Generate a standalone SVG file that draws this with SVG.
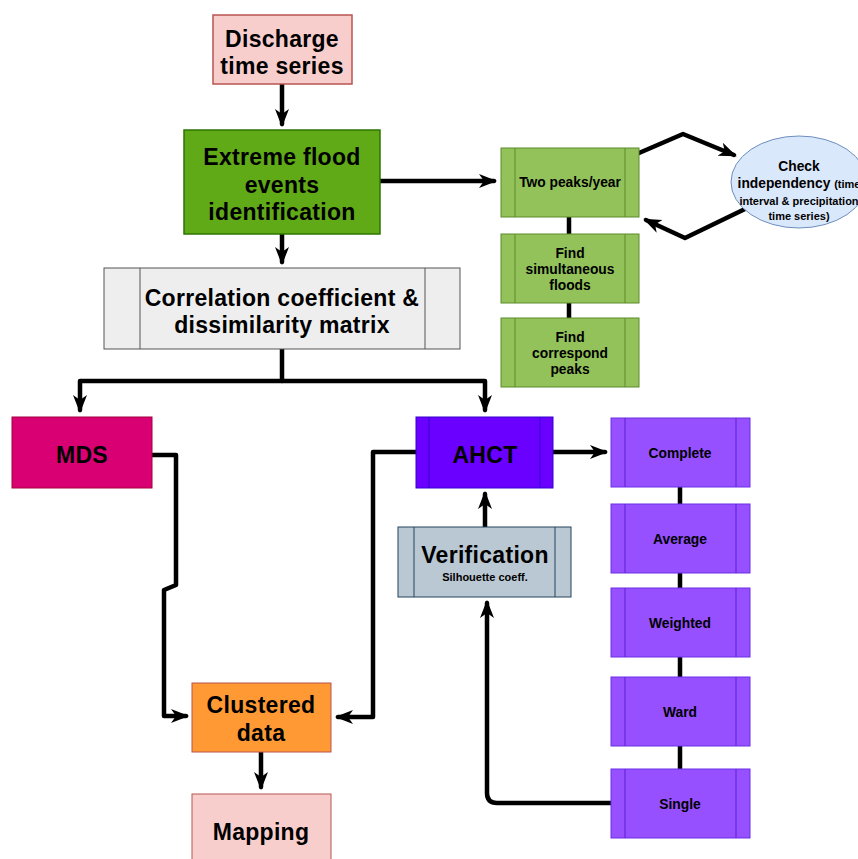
<svg xmlns="http://www.w3.org/2000/svg" width="858" height="859" viewBox="0 0 858 859">
<style>
.big{font-family:"Comic Sans MS","Liberation Sans",sans-serif;font-weight:bold;font-size:23px;letter-spacing:0.3px;fill:#000;text-anchor:middle}
.sm{font-family:"Liberation Sans",Arial,sans-serif;font-weight:bold;font-size:13.8px;fill:#000;text-anchor:middle}
.xs{font-family:"Liberation Sans",Arial,sans-serif;font-weight:bold;font-size:11px;fill:#000;text-anchor:middle}
.c{fill:none;stroke:#000;stroke-width:4.5;stroke-linejoin:round;stroke-linecap:round}
.in{fill:none;stroke-width:1}
</style>
<defs>
<marker id="ah" markerUnits="userSpaceOnUse" markerWidth="18" markerHeight="16" viewBox="0 0 18 16" refX="15" refY="8" orient="auto">
<path d="M0,1 L18,8 L0,15 L5,8 Z" fill="#000"/>
</marker>
</defs>
<g id="connectors">
<path class="c" d="M282,84 L282,124" marker-end="url(#ah)"/>
<path class="c" d="M380,181 L494,181" marker-end="url(#ah)"/>
<path class="c" d="M639,153 L683,134 L734,155" marker-end="url(#ah)"/>
<path class="c" d="M745,209 L685,238 L646,220" marker-end="url(#ah)"/>
<path class="c" d="M569,217 L569,234"/>
<path class="c" d="M569,303 L569,318"/>
<path class="c" d="M282,234 L282,262" marker-end="url(#ah)"/>
<path class="c" d="M282,349 L282,381 L80,381 L80,410" marker-end="url(#ah)"/>
<path class="c" d="M282,381 L485,381 L485,410" marker-end="url(#ah)"/>
<path class="c" d="M553,452 L605,452" marker-end="url(#ah)"/>
<path class="c" d="M485,527 L485,494" marker-end="url(#ah)"/>
<path class="c" d="M611,803 L497,803 Q487,803 487,793 L487,603" marker-end="url(#ah)"/>
<path class="c" d="M416,452 L373,452 L373,717 L338,717" marker-end="url(#ah)"/>
<path class="c" d="M152,455 L176,455 L176,585 L164,590 L164,716 L186,716" marker-end="url(#ah)"/>
<path class="c" d="M261,752 L261,787" marker-end="url(#ah)"/>
<path class="c" d="M680,487 L680,504"/>
<path class="c" d="M680,573 L680,588"/>
<path class="c" d="M680,657 L680,677"/>
<path class="c" d="M680,746 L680,769"/>
</g>
<g id="discharge">
<rect x="213" y="15" width="139" height="69" fill="#f8cecc" stroke="#b85450" stroke-width="1.5"/>
<text class="big" x="282" y="47">Discharge</text>
<text class="big" x="282" y="74">time series</text>
</g>
<g id="extreme">
<rect x="184" y="130" width="196" height="104" fill="#60a917" stroke="#2d7600" stroke-width="1.5"/>
<text class="big" x="282" y="165">Extreme flood</text>
<text class="big" x="282" y="193">events</text>
<text class="big" x="282" y="220">identification</text>
</g>
<g id="twopeaks">
<rect x="501" y="148" width="138" height="69" fill="#93c25a" stroke="#5d8c2a" stroke-width="1"/>
<line class="in" x1="515" y1="148" x2="515" y2="217" stroke="#5d8c2a"/>
<line class="in" x1="625" y1="148" x2="625" y2="217" stroke="#5d8c2a"/>
<text class="sm" x="570" y="187">Two peaks/year</text>
</g>
<g id="simultaneous">
<rect x="501" y="234" width="138" height="69" fill="#93c25a" stroke="#5d8c2a" stroke-width="1"/>
<line class="in" x1="515" y1="234" x2="515" y2="303" stroke="#5d8c2a"/>
<line class="in" x1="625" y1="234" x2="625" y2="303" stroke="#5d8c2a"/>
<text class="sm" x="570" y="258">Find</text>
<text class="sm" x="570" y="274">simultaneous</text>
<text class="sm" x="570" y="290">floods</text>
</g>
<g id="correspond">
<rect x="501" y="318" width="138" height="69" fill="#93c25a" stroke="#5d8c2a" stroke-width="1"/>
<line class="in" x1="515" y1="318" x2="515" y2="387" stroke="#5d8c2a"/>
<line class="in" x1="625" y1="318" x2="625" y2="387" stroke="#5d8c2a"/>
<text class="sm" x="570" y="342">Find</text>
<text class="sm" x="570" y="358">correspond</text>
<text class="sm" x="570" y="374">peaks</text>
</g>
<g id="check">
<ellipse cx="799" cy="182" rx="68" ry="46" fill="#dae8fc" stroke="#6c8ebf" stroke-width="1"/>
<text class="sm" x="799" y="171">Check</text>
<text class="sm" x="799" y="188">independency <tspan font-size="11px">(time</tspan></text>
<text class="xs" x="799" y="205">interval &amp; precipitation</text>
<text class="xs" x="799" y="220">time series)</text>
</g>
<g id="correlation">
<rect x="104" y="268" width="356" height="81" fill="#eeeeee" stroke="#555" stroke-width="1"/>
<line class="in" x1="140" y1="268" x2="140" y2="349" stroke="#555"/>
<line class="in" x1="425" y1="268" x2="425" y2="349" stroke="#555"/>
<text class="big" x="282" y="306">Correlation coefficient &amp;</text>
<text class="big" x="282" y="333">dissimilarity matrix</text>
</g>
<g id="mds">
<rect x="12" y="417" width="140" height="71" fill="#d80073" stroke="#a50040" stroke-width="1"/>
<text class="big" x="82" y="463">MDS</text>
</g>
<g id="ahct">
<rect x="416" y="417" width="137" height="71" fill="#6a00ff" stroke="#3700cc" stroke-width="1"/>
<line class="in" x1="429" y1="417" x2="429" y2="488" stroke="#3700cc"/>
<line class="in" x1="540" y1="417" x2="540" y2="488" stroke="#3700cc"/>
<text class="big" x="485" y="463">AHCT</text>
</g>
<g id="verification">
<rect x="398" y="527" width="173" height="70" fill="#bac8d3" stroke="#23445d" stroke-width="1"/>
<line class="in" x1="414" y1="527" x2="414" y2="597" stroke="#23445d"/>
<line class="in" x1="555" y1="527" x2="555" y2="597" stroke="#23445d"/>
<text class="big" x="485" y="563">Verification</text>
<text class="xs" x="485" y="581">Silhouette coeff.</text>
</g>
<g id="complete">
<rect x="611" y="418" width="139" height="69" fill="#9650ff" stroke="#6a2ee8" stroke-width="1"/>
<line class="in" x1="625" y1="418" x2="625" y2="487" stroke="#5a1fd6"/>
<line class="in" x1="736" y1="418" x2="736" y2="487" stroke="#5a1fd6"/>
<text class="sm" x="680" y="458">Complete</text>
</g>
<g id="average">
<rect x="611" y="504" width="139" height="69" fill="#9650ff" stroke="#6a2ee8" stroke-width="1"/>
<line class="in" x1="625" y1="504" x2="625" y2="573" stroke="#5a1fd6"/>
<line class="in" x1="736" y1="504" x2="736" y2="573" stroke="#5a1fd6"/>
<text class="sm" x="680" y="544">Average</text>
</g>
<g id="weighted">
<rect x="611" y="588" width="139" height="69" fill="#9650ff" stroke="#6a2ee8" stroke-width="1"/>
<line class="in" x1="625" y1="588" x2="625" y2="657" stroke="#5a1fd6"/>
<line class="in" x1="736" y1="588" x2="736" y2="657" stroke="#5a1fd6"/>
<text class="sm" x="680" y="628">Weighted</text>
</g>
<g id="ward">
<rect x="611" y="677" width="139" height="69" fill="#9650ff" stroke="#6a2ee8" stroke-width="1"/>
<line class="in" x1="625" y1="677" x2="625" y2="746" stroke="#5a1fd6"/>
<line class="in" x1="736" y1="677" x2="736" y2="746" stroke="#5a1fd6"/>
<text class="sm" x="680" y="717">Ward</text>
</g>
<g id="single">
<rect x="611" y="769" width="139" height="69" fill="#9650ff" stroke="#6a2ee8" stroke-width="1"/>
<line class="in" x1="625" y1="769" x2="625" y2="838" stroke="#5a1fd6"/>
<line class="in" x1="736" y1="769" x2="736" y2="838" stroke="#5a1fd6"/>
<text class="sm" x="680" y="809">Single</text>
</g>
<g id="clustered">
<rect x="192" y="683" width="139" height="69" fill="#ff9933" stroke="#b85450" stroke-width="1"/>
<text class="big" x="261" y="713">Clustered</text>
<text class="big" x="261" y="741">data</text>
</g>
<g id="mapping">
<rect x="192" y="794" width="139" height="70" fill="#f8cecc" stroke="#b85450" stroke-width="1"/>
<text class="big" x="261" y="840">Mapping</text>
</g>
</svg>
